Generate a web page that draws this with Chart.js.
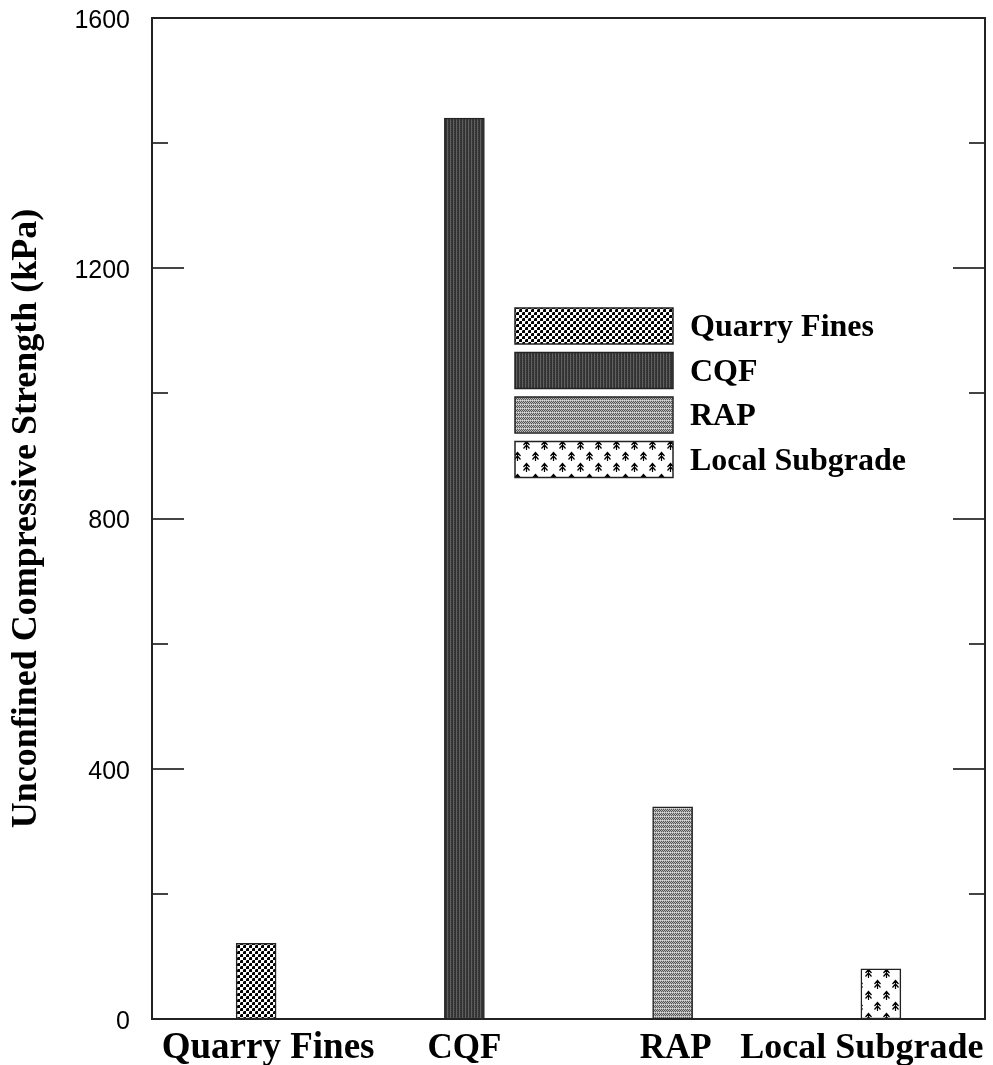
<!DOCTYPE html>
<html>
<head>
<meta charset="utf-8">
<script src="https://cdn.jsdelivr.net/npm/chart.js@4.4.1/dist/chart.umd.min.js"></script>
<style>
  html, body { margin: 0; padding: 0; background: #fff; }
  #wrap { width: 993px; height: 1065px; position: relative; }
</style>
</head>
<body>
<div id="wrap"><canvas id="chart"></canvas></div>
<script>
// data
const categories = ['Quarry Fines', 'CQF', 'RAP', 'Local Subgrade'];
const strengthKPa = [121, 1440, 339, 80];
const yMin = 0;
const yMax = 1600;
const yStep = 200;      // every tick mark
const yLabelStep = 400; // only these get a number

// --- hatch patterns, one per material ---
function makeTile(w, h, paint) {
  const c = document.createElement('canvas');
  c.width = w; c.height = h;
  const g = c.getContext('2d');
  paint(g, w, h);
  return g.createPattern(c, 'repeat');
}

const ctx = document.getElementById('chart').getContext('2d');

// checkerboard of small black dots
const patQuarry = makeTile(6, 6, (g) => {
  g.fillStyle = '#fff'; g.fillRect(0, 0, 6, 6);
  g.fillStyle = '#000';
  g.fillRect(0, 0, 3, 3);
  g.fillRect(3, 3, 3, 3);
  g.fillStyle = '#777';
  g.fillRect(0, 0, 1, 1);
  g.fillRect(3, 3, 1, 1);
});

// dark vertical stripes
const patCQF = makeTile(3, 2, (g) => {
  g.fillStyle = '#323232'; g.fillRect(0, 0, 3, 2);
  g.fillStyle = '#606060'; g.fillRect(0, 0, 1, 2);
  g.fillStyle = '#3e3e3e'; g.fillRect(1, 1, 1, 1);
});

// fine grey stipple
const patRAP = makeTile(4, 4, (g) => {
  for (let x = 0; x < 4; x++) {
    for (let y = 0; y < 4; y++) {
      g.fillStyle = (x + y) % 2 === 0 ? '#555' : '#b8b8b8';
      if (x % 2 === 0 && y % 4 === 0) g.fillStyle = '#d8d8d8';
      g.fillRect(x, y, 1, 1);
    }
  }
});

// little trees
const patSubgrade = makeTile(18, 22, (g) => {
  g.fillStyle = '#fff'; g.fillRect(0, 0, 18, 22);
  g.strokeStyle = '#000';
  g.lineWidth = 1.2;
  const tree = (cx, top) => {
    g.beginPath();
    g.moveTo(cx + 0.5, top); g.lineTo(cx + 0.5, top + 9);
    g.moveTo(cx - 2.5, top + 4); g.lineTo(cx + 0.5, top + 0.5); g.lineTo(cx + 3.5, top + 4);
    g.moveTo(cx - 2.5, top + 7.5); g.lineTo(cx + 0.5, top + 4); g.lineTo(cx + 3.5, top + 7.5);
    g.stroke();
  };
  tree(4, 1);
  tree(13, 12);
});

const fills = [patQuarry, patCQF, patRAP, patSubgrade];

// --- tick marks (inward, both sides) and frame ---
const framePlugin = {
  id: 'frame',
  afterDatasetsDraw(chart) {
    const { ctx, chartArea: a, scales: { y } } = chart;
    ctx.save();
    ctx.strokeStyle = '#444';
    ctx.lineWidth = 2;
    for (let v = yMin; v <= yMax; v += yStep) {
      const py = Math.round(y.getPixelForValue(v));
      const len = v % yLabelStep === 0 ? 32 : 16;
      if (v === yMin || v === yMax) continue;
      ctx.beginPath();
      ctx.moveTo(a.left, py); ctx.lineTo(a.left + len, py);
      ctx.moveTo(a.right, py); ctx.lineTo(a.right - len, py);
      ctx.stroke();
    }
    ctx.strokeStyle = '#222';
    ctx.strokeRect(a.left, a.top, a.right - a.left, a.bottom - a.top);
    ctx.restore();
  }
};

// --- category labels under the axis ---
const xLabelFonts = [37, 35, 35, 36];
const xLabelShift = [12, 0, 3, -19];
const xLabelPlugin = {
  id: 'xlabels',
  afterDraw(chart) {
    const { ctx, chartArea: a, scales: { x } } = chart;
    ctx.save();
    ctx.fillStyle = '#000';
    ctx.textAlign = 'center';
    ctx.textBaseline = 'alphabetic';
    categories.forEach((c, i) => {
      ctx.font = `bold ${xLabelFonts[i]}px "Liberation Serif", "Times New Roman", serif`;
      ctx.fillText(c, x.getPixelForValue(i) + xLabelShift[i], a.bottom + 39);
    });
    ctx.restore();
  }
};

// --- legend drawn inside the plot ---
const legendPlugin = {
  id: 'boxlegend',
  afterDraw(chart) {
    const { ctx } = chart;
    const o = { left: 515, top: 308, boxW: 158, boxH: 36, gap: 44.5, textX: 690 };
    ctx.save();
    ctx.font = 'bold 32px "Liberation Serif", "Times New Roman", serif';
    ctx.textBaseline = 'middle';
    ctx.textAlign = 'left';
    categories.forEach((c, i) => {
      const top = o.top + i * o.gap;
      ctx.fillStyle = fills[i];
      ctx.fillRect(o.left, top, o.boxW, o.boxH);
      ctx.strokeStyle = '#222';
      ctx.lineWidth = 1.5;
      ctx.strokeRect(o.left, top, o.boxW, o.boxH);
      ctx.fillStyle = '#000';
      ctx.fillText(c, o.textX, top + o.boxH / 2 + 2);
    });
    ctx.restore();
  }
};

new Chart(ctx, {
  type: 'bar',
  data: {
    labels: categories,
    datasets: [{
      label: 'Unconfined Compressive Strength',
      data: strengthKPa,
      backgroundColor: fills,
      borderColor: '#222',
      borderWidth: 1.5,
      borderSkipped: false,
      barThickness: 40
    }]
  },
  options: {
    responsive: true,
    maintainAspectRatio: false,
    animation: false,
    layout: { padding: { top: 18, right: 8, left: 0, bottom: 0 } },
    plugins: {
      legend: { display: false },
      tooltip: { enabled: false }
    },
    scales: {
      x: {
        grid: { display: false },
        border: { display: false },
        ticks: { display: false },
        afterFit: (s) => { s.height = 46; }
      },
      y: {
        min: yMin,
        max: yMax,
        grid: { display: false },
        border: { display: false },
        ticks: {
          stepSize: yStep,
          padding: 14,
          labelOffset: 3,
          color: '#000',
          font: { family: '"Liberation Sans", Arial, sans-serif', size: 25 },
          callback: (v) => (v % yLabelStep === 0 ? v : '')
        },
        title: {
          display: true,
          text: 'Unconfined Compressive Strength (kPa)',
          color: '#000',
          font: { family: '"Liberation Serif", "Times New Roman", serif', size: 36, weight: 'bold' },
          padding: { top: 5, bottom: 0 }
        },
        afterFit: (s) => {
          s.width = 152;
          s.paddingTop = 0;
          s.paddingBottom = 0;
        }
      }
    }
  },
  plugins: [framePlugin, xLabelPlugin, legendPlugin]
});
</script>
</body>
</html>
